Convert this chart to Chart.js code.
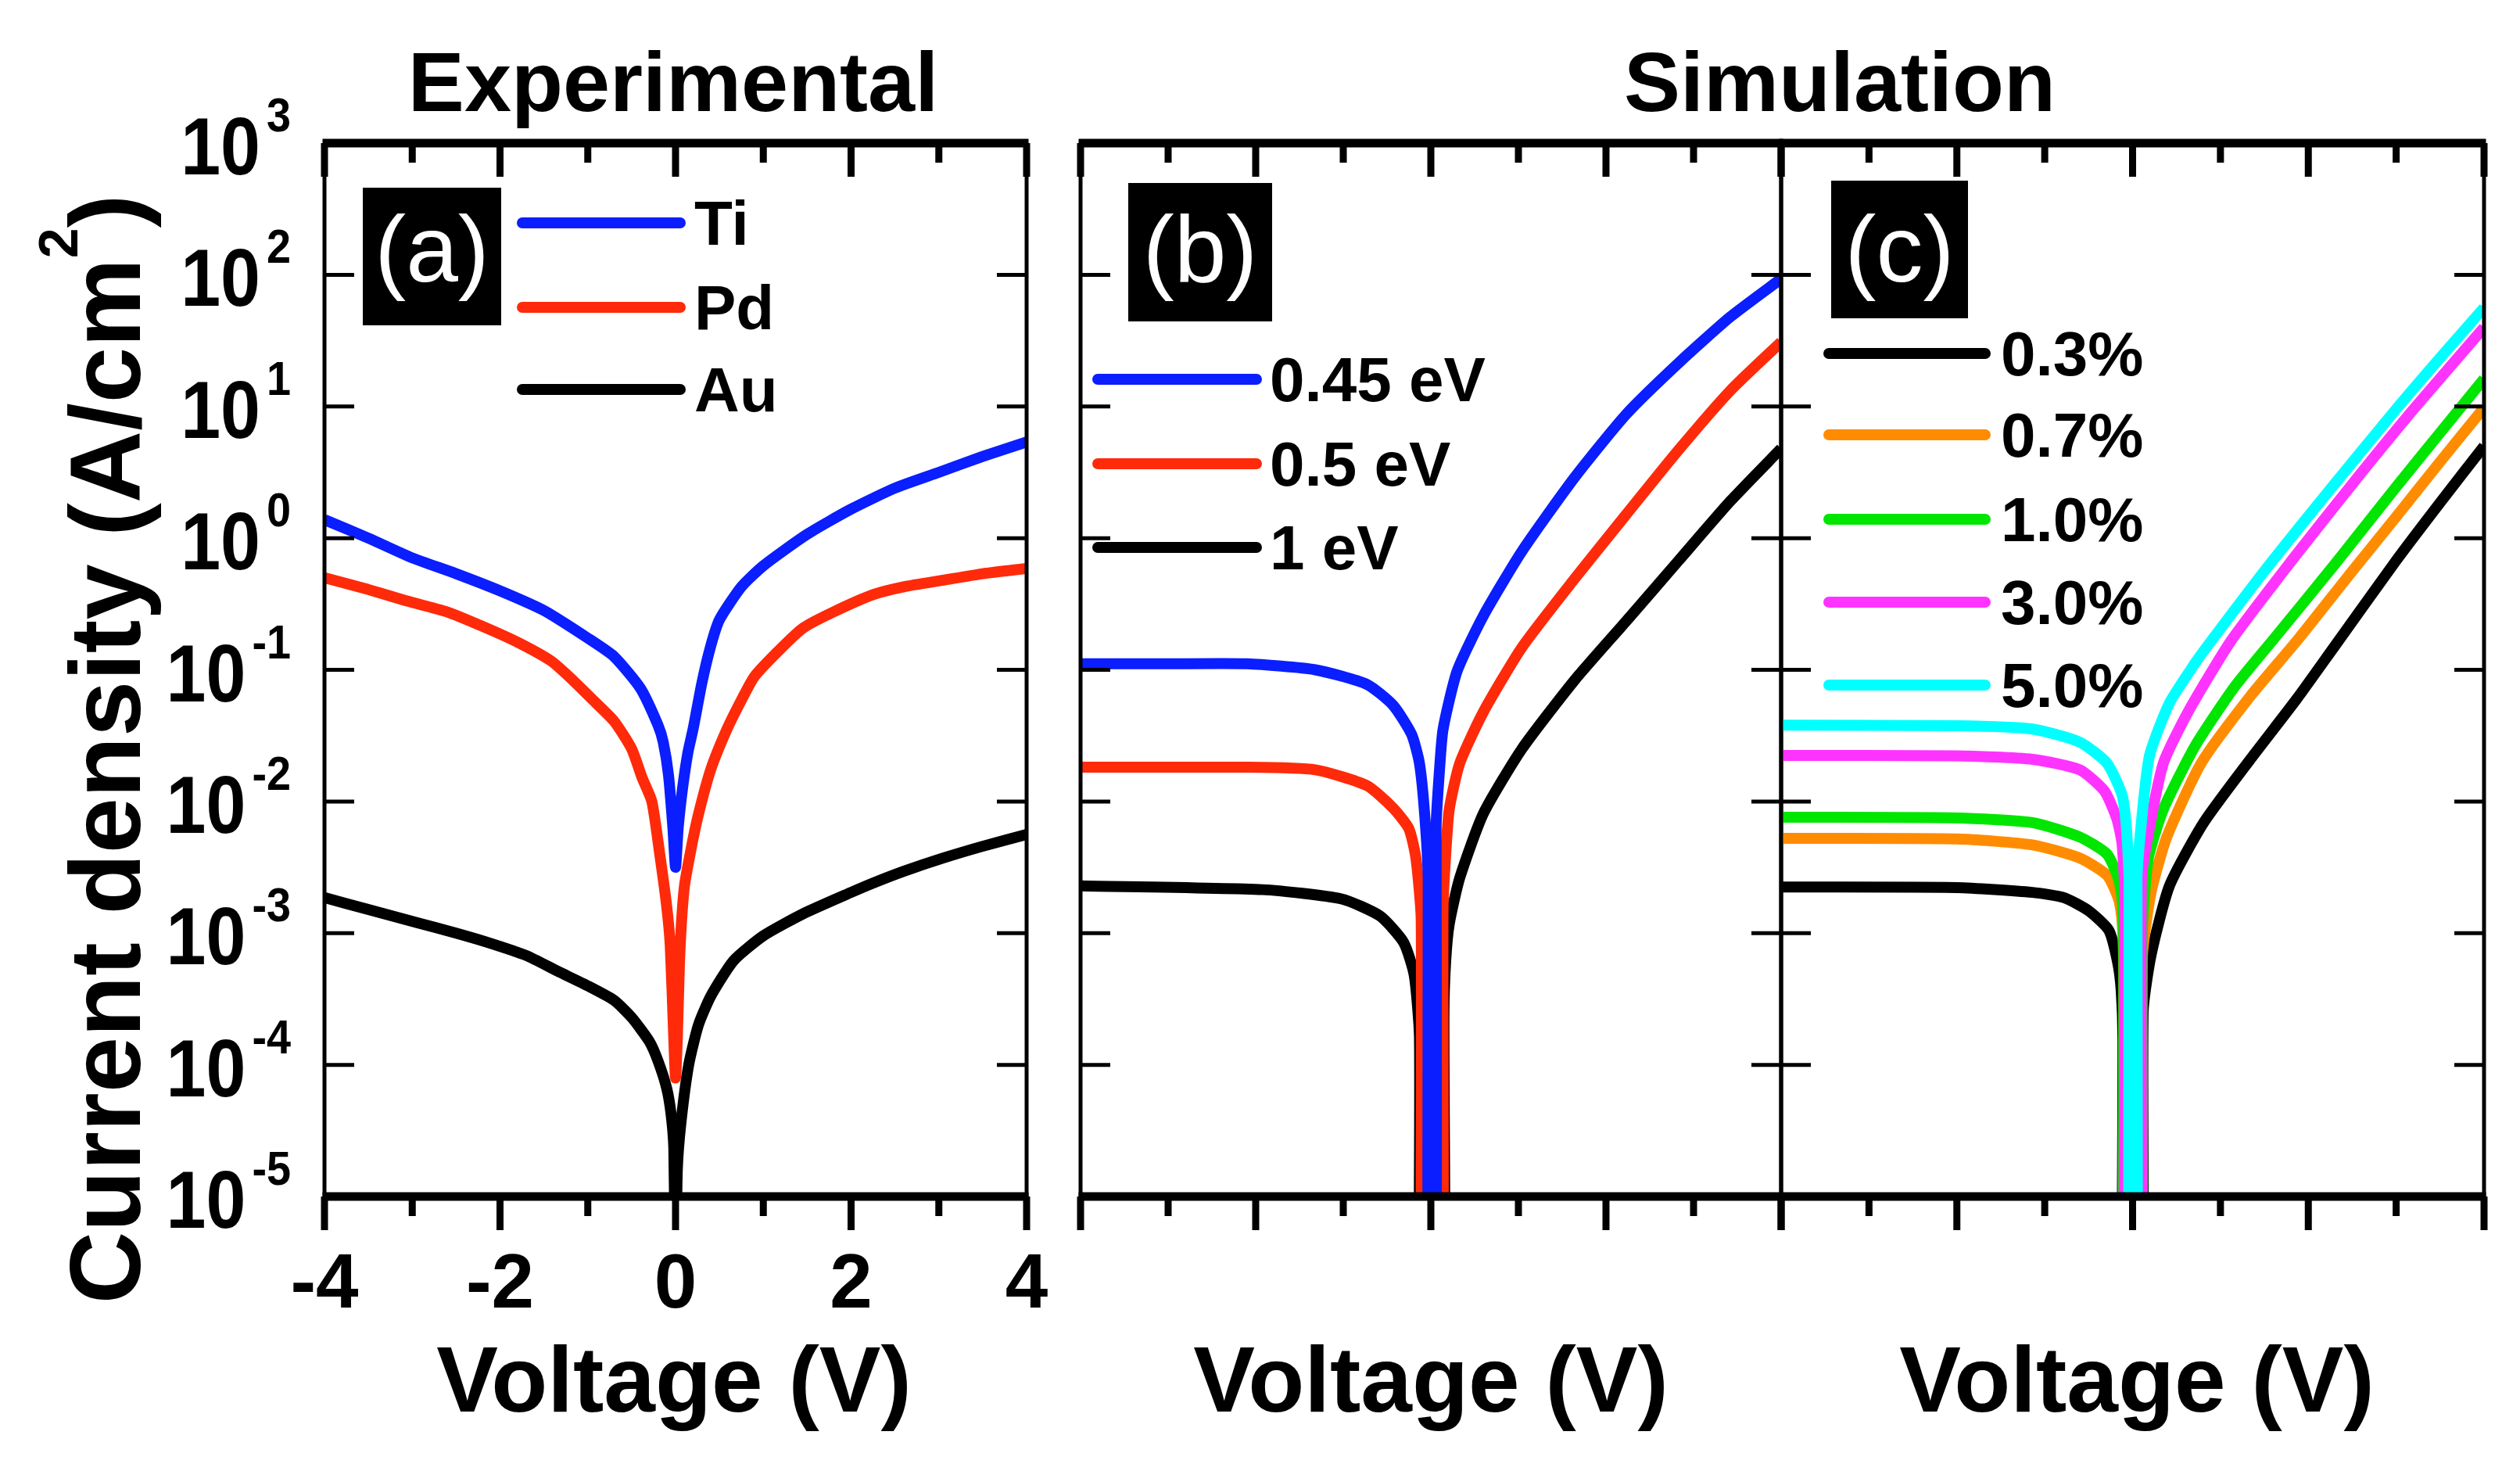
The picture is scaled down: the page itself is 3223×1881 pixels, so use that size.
<!DOCTYPE html>
<html>
<head>
<meta charset="utf-8">
<script src="https://cdn.jsdelivr.net/npm/chart.js@4.4.1/dist/chart.umd.min.js"></script>
<style>
html, body { margin: 0; padding: 0; background: #fff; }
#wrap { position: relative; width: 3223px; height: 1881px; overflow: hidden; background: #fff; }
#wrap canvas { position: absolute; left: 0; top: 0; width: 3223px; height: 1881px; }
</style>
</head>
<body>
<div id="wrap">
  <canvas id="pa" width="3223" height="1881"></canvas>
  <canvas id="pb" width="3223" height="1881"></canvas>
  <canvas id="pc" width="3223" height="1881"></canvas>
</div>
<script>
/* ── Data ── */

// axes
const X_TICKS = [-4, -3, -2, -1, 0, 1, 2, 3, 4];
const X_LABEL_VALUES = [-4, -2, 0, 2, 4];
const X_LABELS = ['-4', '-2', '0', '2', '4'];
const Y_TICKS = [1e3, 1e2, 1e1, 1e0, 1e-1, 1e-2, 1e-3, 1e-4, 1e-5];
const Y_EXPONENTS = ['3', '2', '1', '0', '-1', '-2', '-3', '-4', '-5'];

// (a) experimental
const EXP_LABELS = ['Ti', 'Pd', 'Au'];
const V_TI = [-4, -3.5, -3, -2.5, -2, -1.5, -1, -0.7, -0.4, -0.2, -0.14, -0.08, -0.03, 0, 0.03, 0.08, 0.14, 0.2, 0.3, 0.4, 0.5, 0.75, 1, 1.5, 2, 2.5, 3, 3.5, 4];
const J_TI = [1.38, 1.0, 0.708, 0.537, 0.398, 0.282, 0.174, 0.126, 0.0724, 0.038, 0.0282, 0.0158, 0.0063, 0.00316, 0.0063, 0.0126, 0.0234, 0.0355, 0.0794, 0.151, 0.24, 0.427, 0.617, 1.07, 1.66, 2.40, 3.16, 4.17, 5.37];
const V_PD = [-4, -3.5, -3.1, -2.6, -2.2, -1.8, -1.42, -1.2, -0.94, -0.7, -0.5, -0.38, -0.27, -0.18, -0.1, -0.06, -0.02, 0, 0.02, 0.05, 0.1, 0.18, 0.26, 0.4, 0.58, 0.75, 0.9, 1.2, 1.46, 1.8, 2.25, 2.6, 3.05, 3.5, 4];
const J_PD = [0.501, 0.407, 0.339, 0.275, 0.214, 0.162, 0.117, 0.0871, 0.0589, 0.0407, 0.0251, 0.0151, 0.01, 0.00398, 0.00158, 7.94e-4, 1.58e-4, 7.94e-5, 1.58e-4, 7.24e-4, 0.00224, 0.00447, 0.00794, 0.0174, 0.0347, 0.0589, 0.0891, 0.145, 0.209, 0.275, 0.372, 0.427, 0.479, 0.537, 0.589];
const V_AU = [-4, -3.5, -2.94, -2.5, -2.14, -1.7, -1.34, -1.0, -0.7, -0.5, -0.3, -0.2, -0.1, -0.05, -0.02, 0, 0.02, 0.06, 0.15, 0.26, 0.4, 0.66, 1.0, 1.46, 2.0, 2.25, 2.6, 3.05, 3.5, 4];
const J_AU = [1.86e-3, 1.51e-3, 1.2e-3, 1.0e-3, 8.5e-4, 6.76e-4, 5.13e-4, 3.98e-4, 3.09e-4, 2.29e-4, 1.51e-4, 1.07e-4, 6.6e-5, 4.17e-5, 2.34e-5, 2.5e-6, 1.58e-5, 3.55e-5, 1.0e-4, 2.0e-4, 3.31e-4, 6.17e-4, 9.55e-4, 1.41e-3, 2.04e-3, 2.4e-3, 2.95e-3, 3.72e-3, 4.57e-3, 5.62e-3];

// (b) simulation, barrier height
const BARRIER_LABELS = ['0.45 eV', '0.5 eV', '1 eV'];
const V_B045 = [-4, -3, -2.1, -1.32, -0.73, -0.43, -0.22, -0.13, -0.07, -0.03, -0.03, 0.06, 0.06, 0.1, 0.14, 0.3, 0.6, 1.04, 1.64, 2.23, 2.83, 3.42, 4];
const J_B045 = [0.111, 0.111, 0.111, 0.1, 0.0776, 0.0537, 0.0324, 0.0195, 0.0079, 0.0025, 1e-7, 1e-7, 0.0063, 0.0178, 0.0355, 0.0977, 0.257, 0.794, 2.88, 8.71, 21.4, 47.9, 93.3];
const V_B05 = [-4, -2.1, -1.32, -0.73, -0.43, -0.25, -0.17, -0.11, -0.09, 0.12, 0.14, 0.17, 0.21, 0.33, 0.6, 1.04, 1.64, 2.23, 2.83, 3.42, 4];
const J_B05 = [0.0182, 0.0182, 0.0174, 0.0132, 0.0089, 0.0062, 0.0037, 0.00126, 1e-7, 1e-7, 0.00158, 0.00398, 0.0087, 0.0195, 0.0479, 0.148, 0.49, 1.51, 4.68, 13.2, 30.9];
const V_B1 = [-4, -1.92, -1.02, -0.58, -0.31, -0.19, -0.13, -0.11, 0.14, 0.15, 0.17, 0.21, 0.33, 0.6, 1.04, 1.64, 2.23, 2.83, 3.42, 4];
const J_B1 = [0.00229, 0.00214, 0.00182, 0.00135, 8.5e-4, 4.8e-4, 1.6e-4, 1e-7, 1e-7, 2.5e-4, 6.2e-4, 1.17e-3, 2.63e-3, 8.1e-3, 0.0251, 0.0832, 0.234, 0.676, 1.91, 4.79];

// (c) simulation, defect concentration
const CONC_LABELS = ['0.3%', '0.7%', '1.0%', '3.0%', '5.0%'];
const V_C03 = [-4, -2, -1.14, -0.78, -0.5, -0.27, -0.17, -0.13, -0.11, -0.1, 0.11, 0.12, 0.21, 0.42, 0.81, 1.34, 1.87, 2.29, 3, 3.5, 4];
const J_C03 = [0.00224, 0.00222, 0.00204, 0.00186, 0.00148, 0.00105, 6.0e-4, 3.7e-4, 1.6e-4, 1e-7, 1e-7, 2.5e-4, 6.8e-4, 0.00229, 0.00692, 0.0209, 0.0603, 0.148, 0.676, 1.86, 5.0];
const V_C07 = [-4, -2, -1.14, -0.6, -0.29, -0.16, -0.12, -0.1, -0.09, 0.1, 0.11, 0.21, 0.39, 0.78, 1.34, 1.87, 2.5, 3, 3.5, 4];
const J_C07 = [0.00525, 0.0052, 0.00468, 0.00372, 0.00275, 0.00182, 0.00126, 5e-4, 1e-7, 1e-7, 6.3e-4, 0.00204, 0.00537, 0.0195, 0.063, 0.166, 0.562, 1.45, 3.8, 9.77];
const V_C10 = [-4, -2, -1.14, -0.6, -0.29, -0.16, -0.12, -0.1, -0.09, 0.1, 0.11, 0.18, 0.35, 0.71, 1.16, 1.59, 2.3, 3, 3.5, 4];
const J_C10 = [0.00759, 0.0075, 0.00692, 0.00537, 0.00398, 0.00257, 0.00182, 6.3e-4, 1e-7, 1e-7, 0.001, 0.00372, 0.0087, 0.0263, 0.0741, 0.166, 0.631, 2.45, 6.31, 16.2];
const V_C30 = [-4, -2, -1.14, -0.6, -0.32, -0.18, -0.12, -0.09, -0.08, 0.09, 0.1, 0.18, 0.35, 0.64, 1.12, 1.8, 2.5, 3.2, 4];
const J_C30 = [0.0224, 0.0222, 0.0209, 0.0174, 0.012, 0.00741, 0.00479, 0.002, 1e-7, 1e-7, 0.00251, 0.00575, 0.0195, 0.049, 0.166, 0.661, 2.57, 9.55, 39.8];
const V_C50 = [-4, -2, -1.14, -0.6, -0.29, -0.12, -0.07, -0.04, -0.04, 0.05, 0.05, 0.08, 0.19, 0.42, 0.71, 0.85, 1.5, 2.2, 3, 3.5, 4];
const J_C50 = [0.038, 0.0376, 0.0355, 0.0282, 0.0195, 0.0112, 0.0063, 0.0025, 1e-7, 1e-7, 0.0025, 0.005, 0.0219, 0.056, 0.112, 0.151, 0.562, 2.14, 9.55, 23.4, 56.2];

/* ── Styling ── */

const FONT = '"Liberation Sans", Arial, Helvetica, sans-serif';
const C_BLUE = '#0a1eff', C_RED = '#ff2a0a', C_BLACK = '#000000';
const C_ORANGE = '#ff8c00', C_GREEN = '#00e600', C_MAGENTA = '#ff33ff', C_CYAN = '#00ffff';
const LINE_W = 14;
const PAGE_W = 3223, PAGE_H = 1881;
const PLOT_TOP = 183, PLOT_BOTTOM = 1530;

function pts(xs, ys) { return xs.map((x, i) => ({ x, y: ys[i] })); }

function ds(label, xs, ys, color, order) {
  return { label, data: pts(xs, ys), borderColor: color, backgroundColor: color, borderWidth: LINE_W,
    pointRadius: 0, tension: 0.2, fill: false, clip: 0, order: order || 0,
    borderCapStyle: 'butt', borderJoinStyle: 'round' };
}

function txt(ctx, s, x, y, size, opts) {
  opts = opts || {};
  ctx.save();
  ctx.font = (opts.weight || 'bold') + ' ' + size + 'px ' + FONT;
  ctx.fillStyle = opts.color || '#000';
  ctx.textBaseline = 'alphabetic';
  ctx.textAlign = opts.align || 'left';
  ctx.translate(x, y);
  ctx.scale(opts.sx || 1, 1);
  ctx.fillText(s, 0, 0);
  ctx.restore();
}

function seg(ctx, x1, y1, x2, y2) { ctx.beginPath(); ctx.moveTo(x1, y1); ctx.lineTo(x2, y2); ctx.stroke(); }

/* frame, ticks, labels, legend — all positioned through the chart's own scales */
const panelDecor = {
  id: 'panelDecor',
  afterDraw(chart, args, o) {
    const ctx = chart.ctx, xs = chart.scales.x, ys = chart.scales.y;
    const { left, right, top, bottom } = chart.chartArea;
    ctx.save();
    ctx.strokeStyle = '#000';
    ctx.lineCap = 'butt';

    // side axes (thin)
    ctx.lineWidth = 5;
    seg(ctx, left, top, left, bottom);
    seg(ctx, right, top, right, bottom);
    // top / bottom axes (thick)
    ctx.lineWidth = 11;
    seg(ctx, left - 2.5, top, right + 2.5, top);
    seg(ctx, left - 2.5, bottom, right + 2.5, bottom);
    // x ticks: inward on top, outward on bottom
    ctx.lineWidth = 9;
    X_TICKS.forEach(v => {
      const px = xs.getPixelForValue(v);
      const len = v % 2 === 0 ? 43 : 25;
      seg(ctx, px, top, px, top + len);
      seg(ctx, px, bottom, px, bottom + len);
    });
    // y ticks: inward on both sides
    ctx.lineWidth = 5;
    Y_TICKS.slice(1, -1).forEach(v => {
      const py = ys.getPixelForValue(v);
      seg(ctx, left, py, left + 38, py);
      seg(ctx, right - 38, py, right, py);
    });
    ctx.restore();

    // x tick labels
    if (o.xLabels) {
      X_LABEL_VALUES.forEach((v, i) => txt(ctx, X_LABELS[i], xs.getPixelForValue(v), 1672, 98, { align: 'center' }));
    }
    // y tick labels 10^n
    if (o.yLabels) {
      Y_TICKS.forEach((v, i) => {
        const py = ys.getPixelForValue(v);
        ctx.save();
        ctx.font = 'bold 62px ' + FONT;
        const we = ctx.measureText(Y_EXPONENTS[i]).width * 0.9;
        ctx.font = 'bold 104px ' + FONT;
        const wb = ctx.measureText('10').width * 0.88;
        ctx.restore();
        const xr = 372;
        txt(ctx, Y_EXPONENTS[i], xr - we, py - 15, 62, { sx: 0.9 });
        txt(ctx, '10', xr - we - 8 - wb, py + 40, 104, { sx: 0.88 });
      });
    }
    // y title with superscript
    if (o.yTitle) {
      const s1 = 'Current density (A/cm', s2 = '2', s3 = ')';
      ctx.save();
      ctx.font = 'bold 128px ' + FONT;
      const w1 = ctx.measureText(s1).width, w3 = ctx.measureText(s3).width;
      ctx.font = 'bold 70px ' + FONT;
      const w2 = ctx.measureText(s2).width;
      const tot = w1 + w2 + w3;
      ctx.translate(179, 958);
      ctx.rotate(-Math.PI / 2);
      txt(ctx, s1, -tot / 2, 0, 128);
      txt(ctx, s2, -tot / 2 + w1, -80, 70);
      txt(ctx, s3, -tot / 2 + w1 + w2, 0, 128);
      ctx.restore();
    }
    // x title
    if (o.xTitle) txt(ctx, o.xTitle.text, o.xTitle.x, 1805, 118, { align: 'center' });
    // panel heading
    if (o.title) txt(ctx, o.title.text, o.title.x, 142, 108, { align: 'center' });
    // panel tag
    if (o.tag) {
      const t = o.tag;
      ctx.save();
      ctx.fillStyle = '#000';
      ctx.fillRect(t.x, t.y, t.w, t.h);
      ctx.restore();
      txt(ctx, t.text, t.x + t.w / 2, 360, 120, { align: 'center', weight: 'normal', color: '#fff' });
    }
    // legend
    if (o.legend) {
      const L = o.legend;
      chart.data.datasets.forEach((d, i) => {
        const y = L.rows[i];
        ctx.save();
        ctx.strokeStyle = d.borderColor;
        ctx.lineWidth = 14;
        ctx.lineCap = 'round';
        seg(ctx, L.x1, y, L.x2, y);
        ctx.restore();
        txt(ctx, d.label, L.tx, y + 28, 80);
      });
    }
  }
};

function makePanel(id, left, right, datasets, decor) {
  return new Chart(document.getElementById(id), {
    type: 'line',
    data: { datasets },
    options: {
      responsive: false, animation: false, devicePixelRatio: 1, events: [],
      layout: { padding: { left, right: PAGE_W - right, top: PLOT_TOP, bottom: PAGE_H - PLOT_BOTTOM } },
      scales: {
        x: { type: 'linear', min: -4, max: 4, display: false },
        y: { type: 'logarithmic', min: 1e-5, max: 1e3, display: false }
      },
      plugins: { legend: { display: false }, tooltip: { enabled: false }, panelDecor: decor }
    },
    plugins: [panelDecor]
  });
}

makePanel('pa', 415, 1313, [
  ds(EXP_LABELS[0], V_TI, J_TI, C_BLUE, 1),
  ds(EXP_LABELS[1], V_PD, J_PD, C_RED, 0),
  ds(EXP_LABELS[2], V_AU, J_AU, C_BLACK, 0)
], {
  xLabels: true, yLabels: true, yTitle: true,
  xTitle: { text: 'Voltage (V)', x: 862 },
  title: { text: 'Experimental', x: 861 },
  tag: { text: '(a)', x: 464, y: 240, w: 177, h: 176 },
  legend: { x1: 668, x2: 870, tx: 888, rows: [285, 393, 498] }
});

makePanel('pb', 1382, 2278, [
  ds(BARRIER_LABELS[0], V_B045, J_B045, C_BLUE, 0),
  ds(BARRIER_LABELS[1], V_B05, J_B05, C_RED, 1),
  ds(BARRIER_LABELS[2], V_B1, J_B1, C_BLACK, 2)
], {
  xTitle: { text: 'Voltage (V)', x: 1830 },
  title: { text: 'Simulation', x: 2353 },
  tag: { text: '(b)', x: 1443, y: 234, w: 184, h: 177 },
  legend: { x1: 1404, x2: 1607, tx: 1624, rows: [485, 593, 700] }
});

makePanel('pc', 2278, 3177, [
  ds(CONC_LABELS[0], V_C03, J_C03, C_BLACK, 5),
  ds(CONC_LABELS[1], V_C07, J_C07, C_ORANGE, 4),
  ds(CONC_LABELS[2], V_C10, J_C10, C_GREEN, 3),
  ds(CONC_LABELS[3], V_C30, J_C30, C_MAGENTA, 2),
  ds(CONC_LABELS[4], V_C50, J_C50, C_CYAN, 1)
], {
  xTitle: { text: 'Voltage (V)', x: 2733 },
  tag: { text: '(c)', x: 2342, y: 231, w: 175, h: 176 },
  legend: { x1: 2339, x2: 2539, tx: 2559, rows: [452, 556, 664, 770, 876] }
});
</script>
</body>
</html>
